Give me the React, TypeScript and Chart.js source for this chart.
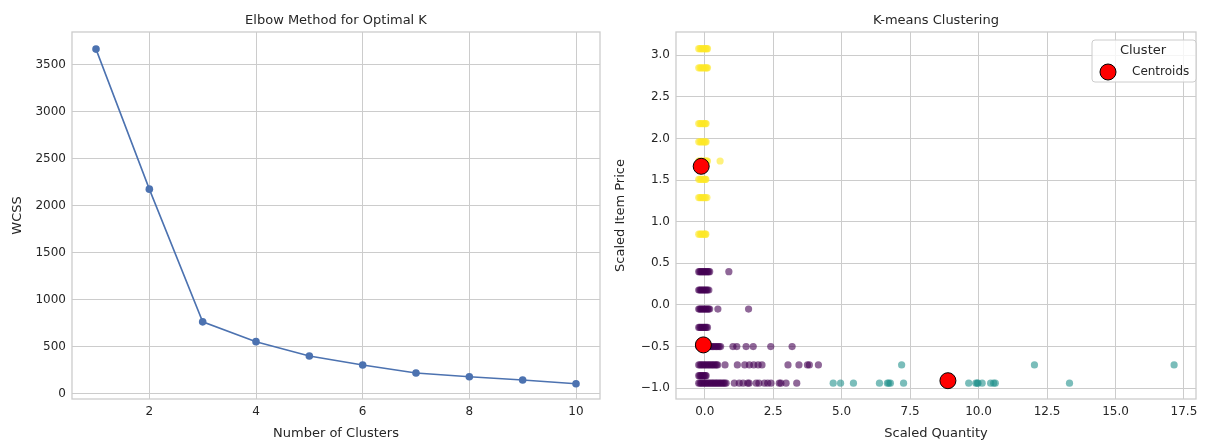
import React, { useEffect, useRef } from "react";
import { Chart, registerables } from "chart.js";

Chart.register(...registerables);

// ---------- Elbow data ----------
const clusterCounts = [1, 2, 3, 4, 5, 6, 7, 8, 9, 10];
const wcss = [3668, 2178, 766, 555, 402, 307, 222, 181, 147, 107];
const elbowXTicks = [2, 4, 6, 8, 10];
const elbowYTicks = [0, 500, 1000, 1500, 2000, 2500, 3000, 3500];

// ---------- K-means data ([scaled quantity, scaled item price]) ----------
const cluster0Points: [number, number][] = [
  [-0.22, 0.4], [-0.18, 0.4], [-0.14, 0.4], [-0.1, 0.4], [-0.06, 0.4], [-0.02, 0.4], [0.02, 0.4], [0.06, 0.4], [0.1, 0.4], [0.14, 0.4], [0.18, 0.4], [0.88, 0.4],
  [-0.22, 0.18], [-0.18, 0.18], [-0.14, 0.18], [-0.1, 0.18], [-0.06, 0.18], [-0.02, 0.18], [0.02, 0.18], [0.06, 0.18], [0.1, 0.18], [0.15, 0.18],
  [-0.22, -0.05], [-0.18, -0.05], [-0.14, -0.05], [-0.1, -0.05], [-0.06, -0.05], [-0.02, -0.05], [0.02, -0.05], [0.06, -0.05], [0.1, -0.05], [0.14, -0.05], [0.18, -0.05], [0.48, -0.05], [1.6, -0.05],
  [-0.22, -0.27], [-0.18, -0.27], [-0.14, -0.27], [-0.1, -0.27], [-0.06, -0.27], [-0.02, -0.27], [0.02, -0.27], [0.06, -0.27], [0.1, -0.27],
  [-0.22, -0.5], [-0.17, -0.5], [-0.12, -0.5], [-0.07, -0.5], [-0.02, -0.5], [0.03, -0.5], [0.08, -0.5], [0.13, -0.5], [0.18, -0.5], [0.23, -0.5], [0.28, -0.5], [0.33, -0.5], [0.38, -0.5], [0.43, -0.5], [0.48, -0.5], [0.53, -0.5], [0.58, -0.5],
  [1.03, -0.5], [1.17, -0.5], [1.51, -0.5], [1.77, -0.5], [2.41, -0.5], [3.19, -0.5],
  [-0.22, -0.72], [-0.17, -0.72], [-0.12, -0.72], [-0.07, -0.72], [-0.02, -0.72], [0.03, -0.72], [0.08, -0.72], [0.13, -0.72], [0.18, -0.72], [0.23, -0.72], [0.28, -0.72], [0.33, -0.72], [0.38, -0.72], [0.43, -0.72], [0.47, -0.72],
  [0.74, -0.72], [1.19, -0.72], [1.46, -0.72], [1.63, -0.72], [1.79, -0.72], [1.95, -0.72], [2.09, -0.72], [3.04, -0.72], [3.44, -0.72], [3.75, -0.72], [3.82, -0.72], [4.15, -0.72],
  [-0.22, -0.85], [-0.18, -0.85], [-0.14, -0.85], [-0.1, -0.85], [-0.06, -0.85], [-0.02, -0.85], [0.02, -0.85], [0.05, -0.85],
  [-0.22, -0.94], [-0.17, -0.94], [-0.12, -0.94], [-0.07, -0.94], [-0.02, -0.94], [0.03, -0.94], [0.08, -0.94], [0.13, -0.94], [0.18, -0.94], [0.23, -0.94], [0.28, -0.94], [0.33, -0.94], [0.38, -0.94], [0.43, -0.94], [0.48, -0.94], [0.53, -0.94], [0.58, -0.94], [0.63, -0.94], [0.68, -0.94], [0.73, -0.94], [0.78, -0.94],
  [1.08, -0.94], [1.26, -0.94], [1.4, -0.94], [1.57, -0.94], [1.62, -0.94], [1.88, -0.94], [1.98, -0.94], [2.18, -0.94], [2.3, -0.94], [2.42, -0.94], [2.72, -0.94], [2.78, -0.94], [2.97, -0.94], [3.36, -0.94],
];

const cluster1Points: [number, number][] = [
  [7.19, -0.72], [12.04, -0.72], [17.14, -0.72],
  [4.69, -0.94], [4.96, -0.94], [5.43, -0.94], [6.38, -0.94], [6.67, -0.94], [6.72, -0.94], [6.78, -0.94], [7.26, -0.94],
  [9.64, -0.94], [9.9, -0.94], [9.95, -0.94], [9.98, -0.94], [10.13, -0.94], [10.44, -0.94], [10.55, -0.94], [10.61, -0.94], [13.32, -0.94],
];

const cluster2Points: [number, number][] = [
  [-0.22, 3.08], [-0.17, 3.08], [-0.12, 3.08], [-0.07, 3.08], [-0.02, 3.08], [0.03, 3.08], [0.07, 3.08], [0.1, 3.08],
  [-0.22, 2.85], [-0.17, 2.85], [-0.12, 2.85], [-0.07, 2.85], [-0.02, 2.85], [0.03, 2.85], [0.07, 2.85], [0.1, 2.85],
  [-0.22, 2.18], [-0.17, 2.18], [-0.12, 2.18], [-0.07, 2.18], [-0.02, 2.18], [0.02, 2.18], [0.05, 2.18],
  [-0.22, 1.96], [-0.17, 1.96], [-0.12, 1.96], [-0.07, 1.96], [-0.02, 1.96], [0.02, 1.96], [0.05, 1.96],
  [-0.22, 1.73], [-0.17, 1.73], [-0.12, 1.73], [-0.07, 1.73], [-0.02, 1.73], [0.03, 1.73], [0.07, 1.73], [0.1, 1.73], [0.56, 1.73],
  [-0.22, 1.51], [-0.17, 1.51], [-0.12, 1.51], [-0.07, 1.51], [-0.02, 1.51], [0.02, 1.51], [0.04, 1.51],
  [-0.22, 1.29], [-0.17, 1.29], [-0.12, 1.29], [-0.07, 1.29], [-0.02, 1.29], [0.03, 1.29], [0.08, 1.29],
  [-0.22, 0.85], [-0.17, 0.85], [-0.12, 0.85], [-0.07, 0.85], [-0.02, 0.85], [0.02, 0.85], [0.04, 0.85],
];

const centroidX = [-0.05, 8.88, -0.13];
const centroidY = [-0.48, -0.91, 1.666];

const scatterXTicks = [0, 2.5, 5, 7.5, 10, 12.5, 15, 17.5];
const scatterYTicks = [-1, -0.5, 0, 0.5, 1, 1.5, 2, 2.5, 3];

const FONT = "'DejaVu Sans', sans-serif";
const TEXT = "#262626";
const GRID = "#cccccc";

const framePlugin = (title: string) => ({
  id: "frameAndTitle",
  afterDatasetsDraw(chart: any) {
    const { ctx, chartArea } = chart;
    ctx.save();
    ctx.strokeStyle = GRID;
    ctx.lineWidth = 1.3;
    ctx.strokeRect(chartArea.left, chartArea.top, chartArea.right - chartArea.left, chartArea.bottom - chartArea.top);
    ctx.fillStyle = TEXT;
    ctx.font = `13px ${FONT}`;
    ctx.textAlign = "center";
    ctx.textBaseline = "middle";
    ctx.fillText(title, (chartArea.left + chartArea.right) / 2, 21);
    ctx.restore();
  },
});

const legendPlugin = {
  id: "insideLegend",
  afterDraw(chart: any) {
    const { ctx } = chart;
    ctx.save();
    const x = 482, y = 40, w = 104, h = 42, r = 3;
    ctx.beginPath();
    ctx.moveTo(x + r, y);
    ctx.arcTo(x + w, y, x + w, y + h, r);
    ctx.arcTo(x + w, y + h, x, y + h, r);
    ctx.arcTo(x, y + h, x, y, r);
    ctx.arcTo(x, y, x + w, y, r);
    ctx.closePath();
    ctx.fillStyle = "rgba(255,255,255,0.8)";
    ctx.fill();
    ctx.strokeStyle = GRID;
    ctx.lineWidth = 1;
    ctx.stroke();
    ctx.fillStyle = TEXT;
    ctx.font = `13px ${FONT}`;
    ctx.textAlign = "center";
    ctx.textBaseline = "middle";
    ctx.fillText("Cluster", 533, 51);
    ctx.beginPath();
    ctx.arc(498, 72, 8, 0, Math.PI * 2);
    ctx.fillStyle = "#ff0000";
    ctx.fill();
    ctx.strokeStyle = "#000000";
    ctx.lineWidth = 1;
    ctx.stroke();
    ctx.fillStyle = TEXT;
    ctx.font = `12px ${FONT}`;
    ctx.textAlign = "left";
    ctx.fillText("Centroids", 522, 72);
    ctx.restore();
  },
};

function axisCommon() {
  return {
    grid: { color: GRID, lineWidth: 1, drawTicks: false },
    border: { display: false },
  };
}

export default function App() {
  const leftRef = useRef<HTMLCanvasElement | null>(null);
  const rightRef = useRef<HTMLCanvasElement | null>(null);

  useEffect(() => {
    const left = new Chart(leftRef.current as HTMLCanvasElement, {
      type: "scatter",
      data: {
        datasets: [
          {
            data: clusterCounts.map((k, i) => ({ x: k, y: wcss[i] })),
            showLine: true,
            borderColor: "#4c72b0",
            backgroundColor: "#4c72b0",
            borderWidth: 1.6,
            pointRadius: 3.8,
            pointBorderWidth: 0,
          },
        ],
      },
      options: {
        responsive: false,
        animation: false,
        layout: { padding: { top: 32, right: 10, left: 0, bottom: 0 } },
        plugins: { legend: { display: false }, tooltip: { enabled: false } },
        scales: {
          x: {
            type: "linear",
            min: 0.55,
            max: 10.45,
            ...axisCommon(),
            afterBuildTicks: (s: any) => { s.ticks = elbowXTicks.map((v) => ({ value: v })); },
            afterFit: (s: any) => { s.height = 42; },
            ticks: { color: TEXT, font: { family: FONT, size: 12 }, padding: 6, callback: (v: any) => String(v) },
            title: { display: true, text: "Number of Clusters", color: TEXT, font: { family: FONT, size: 13 }, padding: { top: 0, bottom: 0 } },
          },
          y: {
            type: "linear",
            min: -55,
            max: 3850,
            ...axisCommon(),
            afterBuildTicks: (s: any) => { s.ticks = elbowYTicks.map((v) => ({ value: v })); },
            afterFit: (s: any) => { s.width = 72; },
            ticks: { color: TEXT, font: { family: FONT, size: 12 }, padding: 6, callback: (v: any) => String(v) },
            title: { display: true, text: "WCSS", color: TEXT, font: { family: FONT, size: 13 }, padding: { top: 10, bottom: 0 } },
          },
        },
      },
      plugins: [framePlugin("Elbow Method for Optimal K")],
    } as any);

    const fmt = (v: any) => Number(v).toFixed(1).replace("-", "\u2212");
    const toXY = (pts: [number, number][]) => pts.map(([x, y]) => ({ x, y }));

    const right = new Chart(rightRef.current as HTMLCanvasElement, {
      type: "scatter",
      data: {
        datasets: [
          {
            label: "Centroids",
            data: centroidX.map((x, i) => ({ x, y: centroidY[i] })),
            backgroundColor: "#ff0000",
            borderColor: "#000000",
            borderWidth: 1,
            pointRadius: 8,
            order: 0,
          },
          {
            label: "0",
            data: toXY(cluster0Points),
            backgroundColor: "rgba(68,1,84,0.6)",
            borderWidth: 0,
            pointRadius: 3.6,
            order: 1,
          },
          {
            label: "1",
            data: toXY(cluster1Points),
            backgroundColor: "rgba(33,145,140,0.6)",
            borderWidth: 0,
            pointRadius: 3.6,
            order: 2,
          },
          {
            label: "2",
            data: toXY(cluster2Points),
            backgroundColor: "rgba(253,231,37,0.6)",
            borderWidth: 0,
            pointRadius: 3.6,
            order: 3,
          },
        ],
      },
      options: {
        responsive: false,
        animation: false,
        layout: { padding: { top: 32, right: 6, left: 0, bottom: 0 } },
        plugins: { legend: { display: false }, tooltip: { enabled: false } },
        scales: {
          x: {
            type: "linear",
            min: -1.05,
            max: 17.94,
            ...axisCommon(),
            afterBuildTicks: (s: any) => { s.ticks = scatterXTicks.map((v) => ({ value: v })); },
            afterFit: (s: any) => { s.height = 42; },
            ticks: { color: TEXT, font: { family: FONT, size: 12 }, padding: 6, callback: fmt },
            title: { display: true, text: "Scaled Quantity", color: TEXT, font: { family: FONT, size: 13 }, padding: { top: 0, bottom: 0 } },
          },
          y: {
            type: "linear",
            min: -1.13,
            max: 3.28,
            ...axisCommon(),
            afterBuildTicks: (s: any) => { s.ticks = scatterYTicks.map((v) => ({ value: v })); },
            afterFit: (s: any) => { s.width = 66; },
            ticks: { color: TEXT, font: { family: FONT, size: 12 }, padding: 6, callback: fmt },
            title: { display: true, text: "Scaled Item Price", color: TEXT, font: { family: FONT, size: 13 }, padding: { top: 3, bottom: 0 } },
          },
        },
      },
      plugins: [framePlugin("K-means Clustering"), legendPlugin],
    } as any);

    return () => {
      left.destroy();
      right.destroy();
    };
  }, []);

  return (
    <div style={{ position: "absolute", left: 0, top: 0, width: 1205, height: 441, background: "#ffffff" }}>
      <canvas ref={leftRef} width={610} height={441} style={{ position: "absolute", left: 0, top: 0 }} />
      <canvas ref={rightRef} width={595} height={441} style={{ position: "absolute", left: 610, top: 0 }} />
    </div>
  );
}
